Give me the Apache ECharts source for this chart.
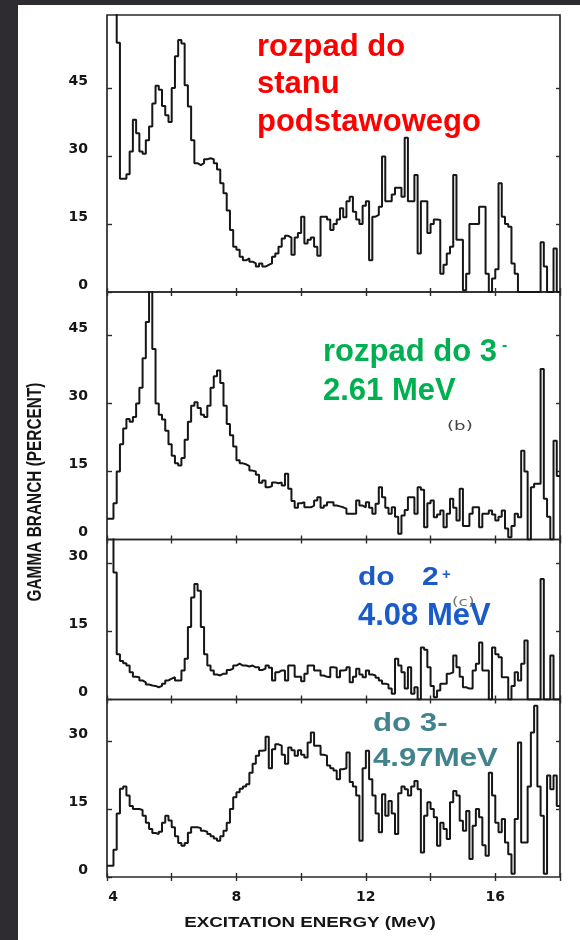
<!DOCTYPE html>
<html><head><meta charset="utf-8">
<script src="https://cdn.jsdelivr.net/npm/echarts@6/dist/echarts.min.js"></script>
<style>
html,body{margin:0;padding:0;background:#2e2b31;width:580px;height:940px;overflow:hidden}
#paper{position:absolute;left:18px;top:5px;width:562px;height:935px;background:#fff}
#chart{position:absolute;left:0;top:0;width:580px;height:940px}
</style></head><body><div id="paper"></div><div id="chart"></div>
<script>
// Excitation energy binning (MeV): bins start at E_START, width BIN_WIDTH
const E_START = 4, E_END = 18, BIN_WIDTH = 0.1;

// (a) decay to ground state, gamma branch (%)
const groundState = [
  70, 70, 70, 55, 25, 25, 26, 31, 38, 35,
  31, 30.5, 33.5, 36.5, 41.6, 45.5, 44.6, 41, 39, 37.5,
  45, 52, 55.6, 54.8, 45.6, 40.9, 33.5, 28.4, 28, 28.4,
  29.3, 29.5, 29.3, 28.4, 27, 24, 21.8, 18, 13.7, 10,
  9.3, 7.8, 7, 7.4, 6.7, 6.3, 5.6, 6.3, 5.6, 6,
  6.3, 7.8, 8.5, 10, 11.8, 12.4, 12, 8.2, 12, 13,
  16.6, 10.7, 11.5, 12, 10, 8, 16.6, 16.6, 16, 13.7,
  15, 16, 18.5, 16.5, 20, 21, 17.7, 16, 15, 19,
  20, 7, 16.6, 17, 18.8, 29.9, 20, 20, 21.5, 23,
  23, 21, 34, 20, 20, 25.8, 8.5, 20, 20, 13,
  15, 16, 15.9, 4, 6, 8.5, 10, 25.8, 11.5, 11.5,
  0.4, 4, 15, 15, 15, 18.8, 18.8, 4, 0, 3,
  5, 24, 16.6, 15, 14.4, 6.3, 4, 0, 0, 0,
  0, 0, 0, 0, 11, 5.6, 0, 0, 9.6, 0
];
// (b) decay to 3- 2.61 MeV
const to3minus261 = [
  4.6, 4.6, 8, 15, 21, 24.5, 26.6, 26, 27, 30,
  33.5, 40, 48, 56, 42, 30, 27.5, 26.5, 24, 21,
  18.5, 16.8, 16.3, 18, 22, 26, 29.5, 30.3, 29, 27.5,
  27, 29.5, 33.5, 36, 37.3, 34.5, 29.5, 25.5, 23, 20.5,
  17.5, 16.8, 16.6, 16.2, 15.2, 15, 14.3, 12.5, 13, 11.5,
  11.8, 12.6, 12.4, 12.6, 11.9, 14.5, 11.2, 8.5, 7, 8,
  8.2, 7.1, 7.1, 7.5, 8.6, 9.3, 7, 7.5, 8.2, 8.2,
  7.5, 7.3, 7.1, 6.8, 5.7, 5.7, 5.7, 8.6, 7.5, 7.1,
  8.2, 7, 5.7, 7.9, 11.5, 9.3, 7, 5.7, 7.1, 5,
  1.25, 5.3, 6.5, 9.3, 9.3, 5.7, 11.5, 11, 2.7, 8,
  8.6, 4.9, 5.5, 6.4, 2.7, 5.7, 9, 7, 4.2, 11.2,
  3, 3, 5.7, 7.1, 7.1, 2.7, 5.7, 5.7, 6.4, 5.5,
  4.2, 5, 6.4, 2.4, 0.5, 3, 5.7, 4.9, 19.6, 15,
  0, 11.5, 12.3, 12.3, 37.6, 9, 5, 0, 21.8, 14
];
// (c) decay to 2+ 4.08 MeV
const to2plus408 = [
  60, 60, 28, 10, 8.5, 8, 7.5, 6, 5, 4.9,
  4.2, 3.8, 3.3, 3.1, 3, 2.7, 3, 3.5, 4.2, 4.6,
  4.9, 4.2, 4.2, 6.4, 9, 16, 22.5, 25.5, 24, 16,
  10, 7.5, 6.4, 5.5, 5.3, 5.7, 5.7, 6.5, 6.8, 7.5,
  7.9, 7.5, 7.5, 7.3, 7.5, 7.1, 7.1, 6.5, 6.8, 7.5,
  7, 4.2, 6, 6.4, 6.4, 4.2, 7.5, 7.5, 5, 5,
  4, 5.7, 7.5, 7.5, 6.4, 6.4, 5.3, 5, 4.9, 7.1,
  7, 4.9, 6.4, 6.5, 7.1, 3.8, 5, 6.8, 5.5, 4.9,
  6.4, 5.5, 5.3, 4.8, 4.2, 3.5, 3.3, 2.4, 1.25, 9,
  7.5, 6, 2.4, 7.1, 1.25, 2.7, 0, 11.5, 11, 7.1,
  3, 0.5, 2, 3.5, 3.5, 5.7, 6, 9.7, 7.1, 5,
  2.7, 2.4, 2.4, 6.4, 7.9, 12.6, 6.4, 6.4, 0, 11.5,
  10, 9.3, 4.9, 4.9, 0, 3, 6, 4.2, 7.9, 13,
  0, 0, 0, 0, 26.6, 0, 0, 9.7, 0, 0
];
// (d) decay to 3- 4.97 MeV
const to3minus497 = [
  2.5, 2.5, 6, 14, 19.5, 20, 18, 15.7, 15, 15,
  14.8, 13.5, 12, 10.6, 9.7, 9.5, 10, 12, 13.5, 12.5,
  11, 9, 7.5, 6.9, 7.5, 9.8, 11, 11, 10.8, 10.2,
  10, 9.5, 9, 8.5, 8, 9, 10.2, 12, 15, 17.6,
  18.7, 19.5, 20, 20.5, 23, 25, 26.8, 27.9, 28, 31,
  24, 28.2, 29.3, 29, 27, 25, 28.6, 28, 26.8, 28,
  27, 26.4, 29.7, 31.9, 29, 29, 27, 26.8, 24.6, 24,
  23.5, 21.6, 23.8, 24, 27.5, 21, 20, 18, 8, 24,
  27.9, 21.6, 18, 14, 9.9, 18.3, 13.5, 16.8, 14, 9.5,
  18.5, 20, 19.4, 18, 20, 21.2, 19.4, 5.4, 13.5, 16.5,
  15, 13.2, 6.9, 12, 10.6, 8.4, 16.5, 19, 18, 12.4,
  10.2, 14.6, 4, 11.3, 15, 13.2, 7, 4.7, 23, 18,
  12, 9.9, 12.8, 7.6, 5, 0.7, 12.8, 29.7, 7.6, 7.6,
  20, 31.9, 37.8, 20, 13.5, 0.7, 22.4, 19.4, 22.4, 15.7
];

const yTicksTall = [0, 15, 30, 45];
const yTicksShort = [0, 15, 30];
const xTickLabels = [4, 8, 12, 16];
const xTitle = 'EXCITATION ENERGY (MeV)';
const yTitle = 'GAMMA BRANCH (PERCENT)';

const panels = [
  { data: groundState, top: 15, height: 277, max: 61.1, ticks: yTicksTall },
  { data: to3minus261, top: 292, height: 247.5, max: 54.6, ticks: yTicksTall },
  { data: to2plus408, top: 539.5, height: 160, max: 35.3, ticks: yTicksShort },
  { data: to3minus497, top: 699.5, height: 177.5, max: 39.2, ticks: yTicksShort }
];

function stepData(vals) {
  const out = vals.map((v, i) => [E_START + i * BIN_WIDTH, v]);
  out.push([E_END, vals[vals.length - 1]]);
  return out;
}

const tickLine = { color: '#2a2a2a', width: 1.4 };
const labelFont = { fontFamily: '"DejaVu Sans", sans-serif', fontWeight: 'bold', fontSize: 14, color: '#151515' };

const grid = [], xAxis = [], yAxis = [], series = [];
panels.forEach((p, i) => {
  grid.push({ left: 107, width: 453, top: p.top, height: p.height, show: true,
    borderColor: '#2a2a2a', borderWidth: 1.7, backgroundColor: 'transparent' });
});
panels.forEach((p, i) => {
  xAxis.push({ gridIndex: i, type: 'value', min: E_START, max: E_END, interval: 2, position: 'bottom',
    axisLine: { show: false }, splitLine: { show: false },
    axisTick: { inside: true, length: 4, lineStyle: tickLine },
    axisLabel: i === 3 ? Object.assign({ customValues: xTickLabels, margin: 13,
      formatter: v => v === 4 ? '{o|4}' : String(v),
      rich: { o: Object.assign({ padding: [0, 0, 0, 12] }, labelFont) } }, labelFont) : { show: false } });
});
panels.forEach((p, i) => {
  xAxis.push({ gridIndex: i, type: 'value', min: E_START, max: E_END, interval: 2, position: 'top',
    axisLine: { show: false }, splitLine: { show: false },
    axisTick: { inside: true, length: 4, lineStyle: tickLine }, axisLabel: { show: false } });
});
panels.forEach((p, i) => {
  yAxis.push({ gridIndex: i, type: 'value', min: 0, max: p.max, position: 'left',
    axisLine: { show: false }, splitLine: { show: false },
    axisTick: { inside: true, length: 5, customValues: p.ticks, lineStyle: tickLine },
    axisLabel: Object.assign({ customValues: p.ticks, margin: 19, verticalAlign: 'bottom' }, labelFont) });
});
panels.forEach((p, i) => {
  yAxis.push({ gridIndex: i, type: 'value', min: 0, max: p.max, position: 'right',
    axisLine: { show: false }, splitLine: { show: false },
    axisTick: { inside: true, length: 4, customValues: p.ticks.slice(1), lineStyle: tickLine },
    axisLabel: { show: false } });
});
panels.forEach((p, i) => {
  series.push({ type: 'line', xAxisIndex: i, yAxisIndex: i, step: 'end', symbol: 'none',
    clip: true, silent: true, data: stepData(p.data),
    lineStyle: { color: '#161616', width: 2 } });
});

function txt(text, x, y, font, fill, extra) {
  return Object.assign({ type: 'text', x: x, y: y, z: 100,
    style: { text: text, x: 0, y: 0, font: font, fill: fill,
      align: 'left', textAlign: 'left', verticalAlign: 'middle', textVerticalAlign: 'middle' } }, extra || {});
}
const AR = '"Liberation Sans", Arial, sans-serif';
const graphic = [
  txt('rozpad do', 257, 47, 'bold 31px ' + AR, '#ff0000'),
  txt('stanu', 257, 84, 'bold 31px ' + AR, '#ff0000'),
  txt('podstawowego', 257, 122, 'bold 31px ' + AR, '#ff0000'),
  txt('(b)', 447, 427, '13px "DejaVu Sans", sans-serif', '#444444', { scaleX: 1.4 }),
  txt('rozpad do 3', 323, 352, 'bold 31px ' + AR, '#00b050'),
  txt('-', 502, 346, 'bold 16px ' + AR, '#00b050'),
  txt('2.61 MeV', 323, 391, 'bold 31px ' + AR, '#00b050'),
  txt('(c)', 452, 603, '13px "DejaVu Sans", sans-serif', '#777777', { scaleX: 1.3, z: 50 }),
  txt('do', 358, 578, 'bold 25px ' + AR, '#1a5bc7', { scaleX: 1.2 }),
  txt('2', 422, 578, 'bold 25px ' + AR, '#1a5bc7', { scaleX: 1.2 }),
  txt('+', 442, 575, 'bold 15px ' + AR, '#1a5bc7'),
  txt('4.08 MeV', 358, 616, 'bold 31px ' + AR, '#1a5bc7'),
  txt('do 3-', 373, 724, 'bold 26px ' + AR, '#41838c', { scaleX: 1.2 }),
  txt('4.97MeV', 373, 759, 'bold 26px ' + AR, '#41838c', { scaleX: 1.2 }),
  { type: 'text', x: 310, y: 923, scaleX: 1.34, z: 100,
    style: { text: xTitle, x: 0, y: 0, font: 'bold 14px ' + AR, fill: '#151515',
      align: 'center', textAlign: 'center', verticalAlign: 'middle', textVerticalAlign: 'middle' } },
  { type: 'text', x: 35, y: 492, rotation: Math.PI / 2, scaleX: 0.77, z: 100,
    style: { text: yTitle, x: 0, y: 0, font: 'bold 20px ' + AR, fill: '#151515',
      align: 'center', textAlign: 'center', verticalAlign: 'middle', textVerticalAlign: 'middle' } }
];

const chart = echarts.init(document.getElementById('chart'), null, { renderer: 'canvas' });
chart.setOption({ backgroundColor: 'transparent', animation: false, grid, xAxis, yAxis, series, graphic });
</script></body></html>
